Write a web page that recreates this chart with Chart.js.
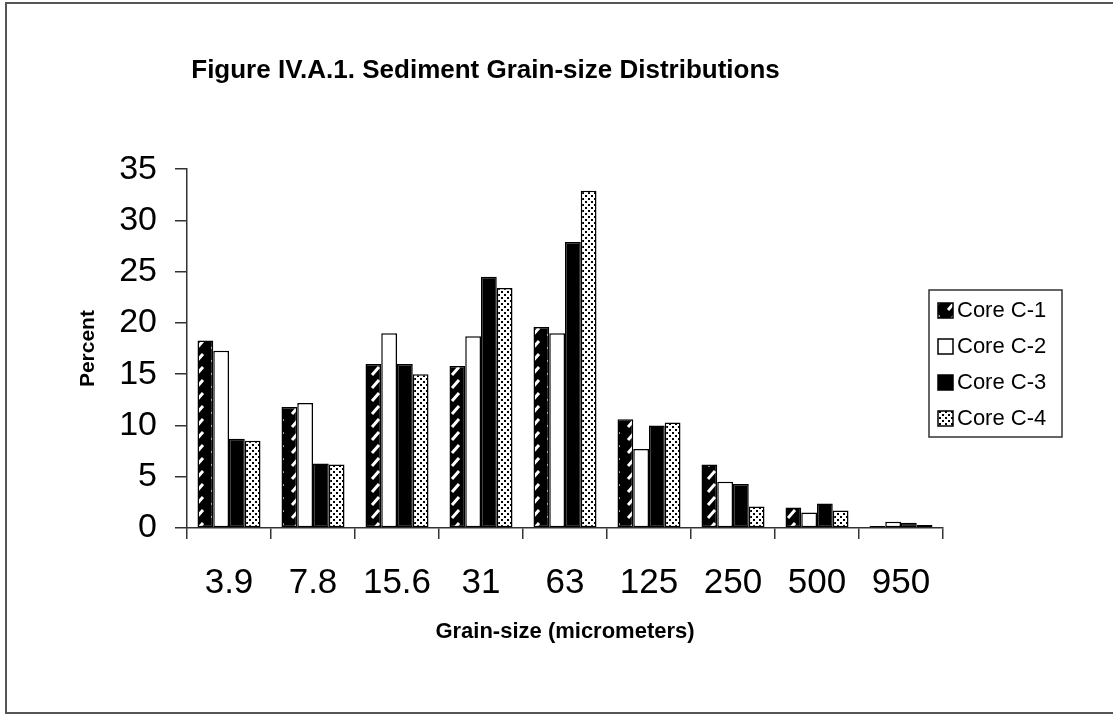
<!DOCTYPE html>
<html>
<head>
<meta charset="utf-8">
<script src="https://cdn.jsdelivr.net/npm/chart.js"></script>
<style>
  html, body { margin: 0; padding: 0; background: #fff; }
  #wrap { position: relative; width: 1113px; height: 715px; }
</style>
</head>
<body>
<div id="wrap"><canvas id="grainChart" width="1113" height="715"></canvas></div>
<script>
const grainSizes = ['3.9', '7.8', '15.6', '31', '63', '125', '250', '500', '950'];
const coreLabels = ['Core C-1', 'Core C-2', 'Core C-3', 'Core C-4'];
const coreC1 = [18.3, 11.8, 16.0, 15.8, 19.6, 10.6, 6.2, 2.0, 0.2];
const coreC2 = [17.3, 12.2, 19.0, 18.7, 19.0, 7.7, 4.5, 1.5, 0.6];
const coreC3 = [8.7, 6.3, 16.0, 24.5, 27.9, 10.0, 4.3, 2.4, 0.5];
const coreC4 = [8.5, 6.2, 15.0, 23.4, 32.9, 10.3, 2.1, 1.7, 0.3];
const yTicks = [0, 5, 10, 15, 20, 25, 30, 35];

const FONT = "'Liberation Sans', Arial, sans-serif";
const LINE = '#333';

// small tile patterns, like the old excel fills
function makePattern(w, h, paint) {
  const c = document.createElement('canvas');
  c.width = w;
  c.height = h;
  const g = c.getContext('2d');
  paint(g, w, h);
  return g.createPattern(c, 'repeat');
}

const slashFill = makePattern(16, 13, (g, w, h) => {
  g.fillStyle = '#000';
  g.fillRect(0, 0, w, h);
  g.strokeStyle = '#fff';
  g.lineWidth = 3;
  g.beginPath();
  g.moveTo(4, 11);
  g.lineTo(11, 3);
  g.stroke();
});

const dotFill = makePattern(6, 6, (g, w, h) => {
  g.fillStyle = '#fff';
  g.fillRect(0, 0, w, h);
  g.fillStyle = '#000';
  g.fillRect(0, 0, 2, 2);
  g.fillRect(3, 3, 2, 2);
});

const fills = [slashFill, '#fff', '#000', dotFill];
const seriesValues = [coreC1, coreC2, coreC3, coreC4];

// frame round the whole figure
const framePlugin = {
  id: 'frame',
  beforeDraw(chart) {
    const ctx = chart.ctx;
    ctx.save();
    ctx.fillStyle = '#fff';
    ctx.fillRect(0, 0, chart.width, chart.height);
    ctx.strokeStyle = '#555';
    ctx.lineWidth = 2;
    ctx.strokeRect(6, 3, chart.width + 10, chart.height - 5);
    ctx.restore();
  }
};

// boxed legend sitting over the right end of the plot
const boxLegendPlugin = {
  id: 'boxLegend',
  afterDraw(chart) {
    const ctx = chart.ctx;
    const area = chart.chartArea;
    const x = area.right - 14;
    const y = 290;
    const w = 133;
    const h = 147;
    ctx.save();
    ctx.strokeStyle = LINE;
    ctx.lineWidth = 1.5;
    ctx.strokeRect(x, y, w, h);
    ctx.font = '22px ' + FONT;
    ctx.textBaseline = 'middle';
    chart.data.datasets.forEach((ds, i) => {
      const cy = y + 20 + i * 36;
      ctx.fillStyle = ds.backgroundColor;
      ctx.fillRect(x + 9, cy - 7, 15, 15);
      ctx.strokeStyle = '#000';
      ctx.lineWidth = 1.5;
      ctx.strokeRect(x + 9, cy - 7, 15, 15);
      ctx.fillStyle = '#000';
      ctx.fillText(ds.label, x + 28, cy + 1);
    });
    ctx.restore();
  }
};

new Chart(document.getElementById('grainChart'), {
  type: 'bar',
  data: {
    labels: grainSizes,
    datasets: coreLabels.map((label, i) => ({
      label: label,
      data: seriesValues[i],
      backgroundColor: fills[i],
      borderColor: '#000',
      borderWidth: 1.5,
      borderSkipped: false,
      barPercentage: 1,
      categoryPercentage: 0.75
    }))
  },
  options: {
    responsive: false,
    animation: false,
    devicePixelRatio: 1,
    layout: { padding: { left: 28, right: 170, top: 0, bottom: 0 } },
    plugins: {
      legend: { display: false },
      tooltip: { enabled: false },
      title: {
        display: true,
        text: 'Figure IV.A.1. Sediment Grain-size Distributions',
        color: '#000',
        font: { family: FONT, size: 26, weight: 'bold' },
        padding: { top: 55, bottom: 83 }
      }
    },
    scales: {
      x: {
        grid: { offset: true, drawOnChartArea: false, tickLength: 11, color: LINE, lineWidth: 1.5 },
        border: { color: LINE, width: 1.5 },
        ticks: { color: '#000', font: { family: FONT, size: 35 }, padding: 23, maxRotation: 0, autoSkip: false },
        title: {
          display: true,
          text: 'Grain-size (micrometers)',
          color: '#000',
          font: { family: FONT, size: 22, weight: 'bold' },
          padding: { top: 0, bottom: 70 }
        },
        afterFit: (s) => { s.height = 187; }
      },
      y: {
        min: 0,
        max: 35,
        afterBuildTicks: (s) => { s.ticks = yTicks.map(v => ({ value: v })); },
        grid: { drawOnChartArea: false, tickLength: 12, color: LINE, lineWidth: 1.5 },
        border: { color: LINE, width: 1.5 },
        ticks: { color: '#000', font: { family: FONT, size: 34 }, padding: 18 },
        title: {
          display: true,
          text: 'Percent',
          color: '#000',
          font: { family: FONT, size: 21, weight: 'bold' },
          padding: { top: 48, bottom: 0 }
        },
        afterFit: (s) => { s.width = 159; }
      }
    }
  },
  plugins: [framePlugin, boxLegendPlugin]
});
</script>
</body>
</html>
